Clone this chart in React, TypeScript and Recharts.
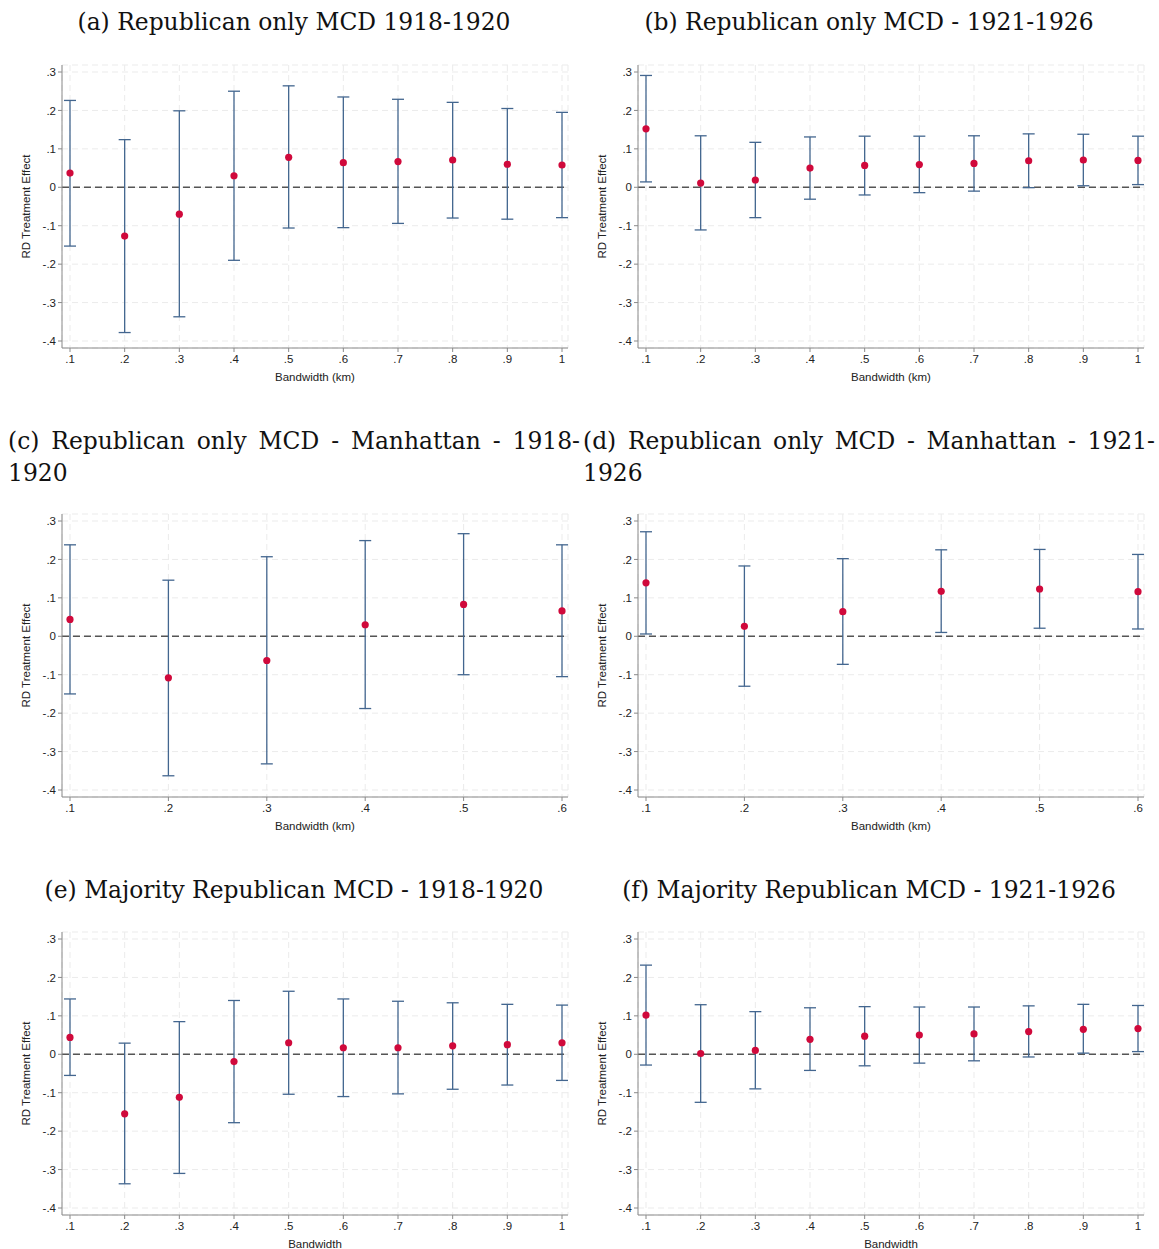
import React from 'react'
import { ScatterChart, Scatter, ErrorBar, XAxis, YAxis, CartesianGrid, ReferenceLine } from 'recharts'

// bandwidths on the x axis
const bwLong = [0.1, 0.2, 0.3, 0.4, 0.5, 0.6, 0.7, 0.8, 0.9, 1.0]
const bwShort = [0.1, 0.2, 0.3, 0.4, 0.5, 0.6]
const yTicks = [-0.4, -0.3, -0.2, -0.1, 0, 0.1, 0.2, 0.3]

// (a) Republican only MCD 1918-1920
const aEst = [0.037, -0.127, -0.07, 0.03, 0.078, 0.064, 0.067, 0.071, 0.06, 0.058]
const aLo = [-0.153, -0.378, -0.337, -0.19, -0.106, -0.105, -0.094, -0.08, -0.083, -0.079]
const aHi = [0.226, 0.124, 0.199, 0.25, 0.264, 0.235, 0.229, 0.221, 0.205, 0.195]

// (b) Republican only MCD - 1921-1926
const bEst = [0.152, 0.011, 0.019, 0.05, 0.057, 0.059, 0.062, 0.069, 0.071, 0.07]
const bLo = [0.014, -0.111, -0.079, -0.031, -0.02, -0.014, -0.01, -0.001, 0.004, 0.007]
const bHi = [0.291, 0.134, 0.117, 0.131, 0.133, 0.133, 0.134, 0.139, 0.138, 0.133]

// (c) Manhattan 1918-1920
const cEst = [0.044, -0.108, -0.063, 0.03, 0.083, 0.066]
const cLo = [-0.15, -0.363, -0.332, -0.188, -0.1, -0.105]
const cHi = [0.238, 0.146, 0.207, 0.249, 0.267, 0.238]

// (d) Manhattan 1921-1926
const dEst = [0.139, 0.026, 0.064, 0.117, 0.123, 0.116]
const dLo = [0.006, -0.13, -0.073, 0.01, 0.021, 0.019]
const dHi = [0.272, 0.183, 0.202, 0.225, 0.226, 0.213]

// (e) Majority Republican MCD - 1918-1920
const eEst = [0.044, -0.155, -0.112, -0.019, 0.03, 0.017, 0.017, 0.022, 0.025, 0.03]
const eLo = [-0.055, -0.337, -0.31, -0.178, -0.104, -0.11, -0.103, -0.091, -0.08, -0.068]
const eHi = [0.144, 0.029, 0.085, 0.14, 0.164, 0.144, 0.138, 0.134, 0.13, 0.128]

// (f) Majority Republican MCD - 1921-1926
const fEst = [0.102, 0.002, 0.01, 0.039, 0.047, 0.05, 0.053, 0.059, 0.065, 0.067]
const fLo = [-0.028, -0.125, -0.09, -0.042, -0.03, -0.023, -0.017, -0.007, 0.003, 0.007]
const fHi = [0.232, 0.129, 0.111, 0.121, 0.124, 0.123, 0.123, 0.126, 0.13, 0.127]

const rows = (bw: number[], est: number[], lo: number[], hi: number[]) =>
  bw.map((x, i) => ({ x, est: est[i], err: [est[i] - lo[i], hi[i] - est[i]] }))

const fmt = (v: number) => {
  if (Math.abs(v) < 1e-9) return '0'
  return String(Number(v.toFixed(1))).replace(/^(-?)0\./, '$1.')
}

const sans = '"Liberation Sans", Arial, sans-serif'
const serif = '"DejaVu Serif", serif'
const tickStyle = { fill: '#222', fontSize: 11.5, fontFamily: sans }
const axisColor = '#8a8a8a'

const YTitle = ({ viewBox }: any) => {
  const cx = viewBox.x + 26
  const cy = viewBox.y + viewBox.height / 2
  return (
    <text x={cx} y={cy} transform={`rotate(-90 ${cx} ${cy})`} textAnchor="middle" dominantBaseline="central"
      fill="#222" fontSize={11.5} fontFamily={sans}>RD Treatment Effect</text>
  )
}

const Panel = ({ data, ticks, xTitle, left, top }: any) => {
  const XTitle = ({ viewBox }: any) => (
    <text x={viewBox.x + viewBox.width / 2} y={viewBox.y + 29} textAnchor="middle" dominantBaseline="central"
      fill="#222" fontSize={11.5} fontFamily={sans}>{xTitle}</text>
  )
  return (
    <div style={{ position: 'absolute', left, top }}>
      <ScatterChart width={570} height={331} margin={{ top: 8, right: 2, bottom: 0, left: 0 }}
        style={{ overflow: 'visible' }}>
        <CartesianGrid stroke="#ebebeb" strokeDasharray="6 4" />
        <XAxis type="number" dataKey="x" domain={[ticks[0], ticks[ticks.length - 1]]} ticks={ticks}
          tickFormatter={fmt} padding={{ left: 8, right: 6 }} height={40} tickSize={4} tickMargin={3}
          stroke={axisColor} tick={tickStyle} interval={0} label={<XTitle />} />
        <YAxis type="number" dataKey="est" domain={[-0.4, 0.3]} ticks={yTicks} tickFormatter={fmt}
          padding={{ top: 7, bottom: 7 }} width={62} tickSize={4} tickMargin={2} stroke={axisColor}
          tick={tickStyle} interval={0} allowDataOverflow label={<YTitle />} />
        <ReferenceLine y={0} stroke="#555" strokeWidth={1.5} strokeDasharray="7 4" />
        <Scatter data={data} isAnimationActive={false}
          shape={(p: any) => <circle cx={p.cx} cy={p.cy} r={3.6} fill="#d0093b" />}>
          <ErrorBar dataKey="err" direction="y" width={6} stroke="#43668f" strokeWidth={1.3} isAnimationActive={false} />
        </Scatter>
      </ScatterChart>
    </div>
  )
}

const titleStyle = (left: number, top: number, justify = false): React.CSSProperties => ({
  position: 'absolute', left, top, width: 572, fontFamily: serif, fontSize: 23.4, lineHeight: '32px',
  color: '#111', textAlign: justify ? 'justify' : 'center',
})

export default function App() {
  return (
    <div style={{ position: 'absolute', left: 0, top: 0, width: 1159, height: 1249, overflow: 'hidden', background: '#fff' }}>
      <div style={titleStyle(8, 6)}>(a) Republican only MCD 1918-1920</div>
      <div style={titleStyle(583, 6)}>(b) Republican only MCD - 1921-1926</div>
      <div style={titleStyle(8, 425, true)}>(c) Republican only MCD - Manhattan - 1918-1920</div>
      <div style={titleStyle(583, 425, true)}>(d) Republican only MCD - Manhattan - 1921-1926</div>
      <div style={titleStyle(8, 874)}>(e) Majority Republican MCD - 1918-1920</div>
      <div style={titleStyle(583, 874)}>(f) Majority Republican MCD - 1921-1926</div>

      <Panel data={rows(bwLong, aEst, aLo, aHi)} ticks={bwLong} xTitle="Bandwidth (km)" left={0} top={57} />
      <Panel data={rows(bwLong, bEst, bLo, bHi)} ticks={bwLong} xTitle="Bandwidth (km)" left={576} top={57} />
      <Panel data={rows(bwShort, cEst, cLo, cHi)} ticks={bwShort} xTitle="Bandwidth (km)" left={0} top={506} />
      <Panel data={rows(bwShort, dEst, dLo, dHi)} ticks={bwShort} xTitle="Bandwidth (km)" left={576} top={506} />
      <Panel data={rows(bwLong, eEst, eLo, eHi)} ticks={bwLong} xTitle="Bandwidth" left={0} top={924} />
      <Panel data={rows(bwLong, fEst, fLo, fHi)} ticks={bwLong} xTitle="Bandwidth" left={576} top={924} />
    </div>
  )
}
